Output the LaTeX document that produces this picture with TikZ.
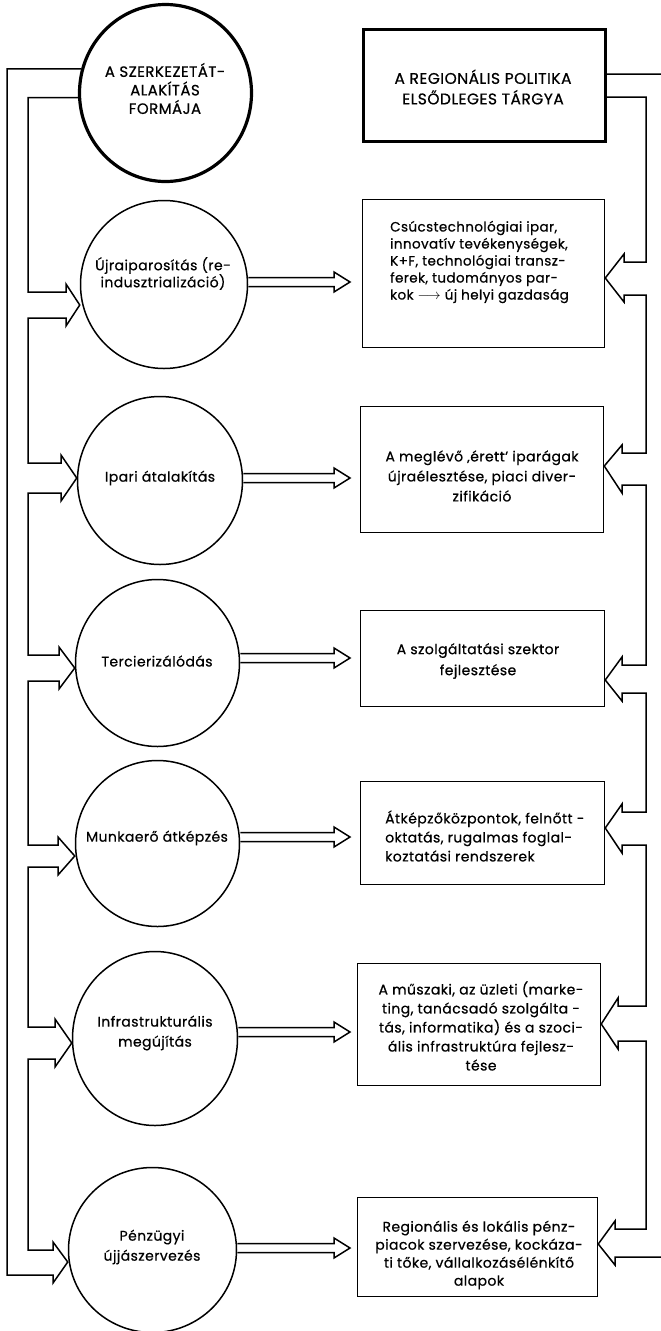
\documentclass[tikz,border=0pt]{standalone}
\usepackage{fontspec}
\setmainfont{Poppins}[LetterSpace=3, RawFeature={embolden=0.6}]
\usetikzlibrary{shapes.geometric,calc}
\begin{document}
\begin{tikzpicture}[x=1pt,y=-1pt,
  ln/.style={line width=1.5pt, line join=miter, miter limit=20},
  ell/.style={draw, ellipse, line width=1.5pt, inner sep=0pt},
  thickell/.style={ell, line width=3.2pt},
  boxn/.style={draw, rectangle, line width=1.5pt, inner sep=0pt},
  thickbox/.style={boxn, line width=3.2pt},
  txt/.style={inner sep=0pt, align=center, font=\fontsize{14}{19}\selectfont},
  caps/.style={inner sep=0pt, align=center, font=\fontsize{15.5}{19}\selectfont},
  ]
\useasboundingbox (0,0) rectangle (661,1331);
% ellipses
\node[thickell, minimum width=172pt, minimum height=177pt] (e1) at (165.5,93) {};
\node[ell, minimum width=167pt, minimum height=168pt] (e2) at (164,284.5) {};
\node[ell, minimum width=165pt, minimum height=168pt] (e3) at (160,480.5) {};
\node[ell, minimum width=164pt, minimum height=167pt] (e4) at (157.5,663) {};
\node[ell, minimum width=164pt, minimum height=166pt] (e5) at (157.5,843.5) {};
\node[ell, minimum width=165pt, minimum height=174pt] (e6) at (155,1038.5) {};
\node[ell, minimum width=168pt, minimum height=165pt] (e7) at (152.5,1250) {};
% boxes
\node[thickbox, minimum width=242pt, minimum height=112pt] (b1) at (484.5,85.5) {};
\node[boxn, minimum width=242pt, minimum height=148pt] (b2) at (483.5,273.5) {};
\node[boxn, minimum width=243pt, minimum height=126pt] (b3) at (482,469.5) {};
\node[boxn, minimum width=244pt, minimum height=96pt] (b4) at (482.5,658.5) {};
\node[boxn, minimum width=244pt, minimum height=103pt] (b5) at (482.5,833) {};
\node[boxn, minimum width=243pt, minimum height=122pt] (b6) at (479,1024.5) {};
\node[boxn, minimum width=240pt, minimum height=99pt] (b7) at (477.5,1247) {};
% texts
\node[caps, font=\fontsize{15}{18.5}\selectfont] (te1) at (165,88.5) {A SZERKEZETÁT-\\ALAKÍTÁS\\FORMÁJA};
\node[caps, font=\fontsize{15.5}{20.5}\selectfont] (tb1) at (483,87) {A REGIONÁLIS POLITIKA\\ELSŐDLEGES TÁRGYA};
\node[txt, font=\fontsize{14}{17}\selectfont] (te2) at (163,273.5) {Újraiparosítás (re-\\indusztrializáció)};
\node[txt] (te3) at (160,478) {Ipari átalakítás};
\node[txt] (te4) at (157,661) {Tercierizálódás};
\node[txt] (te5) at (157,838) {Munkaerő átképzés};
\node[txt, font=\fontsize{14}{20}\selectfont] (te6) at (155,1033) {Infrastrukturális\\megújítás};
\node[txt, font=\fontsize{14}{20}\selectfont] (te7) at (152,1247) {Pénzügyi\\újjászervezés};
\node[txt, align=left, anchor=west, font=\fontsize{13.5}{17}\selectfont] (tb2) at (390,262) {Csúcstechnológiai ipar,\\innovatív tevékenységek,\\K+F, technológiai transz-\\ferek, tudományos par-\\kok $\longrightarrow$ új helyi gazdaság};
\node[txt, font=\fontsize{14}{20}\selectfont] (tb3) at (482,476) {A meglévő ‚érett’ iparágak\\újraélesztése, piaci diver-\\zifikáció};
\node[txt, font=\fontsize{14}{21}\selectfont] (tb4) at (478,661) {A szolgáltatási szektor\\fejlesztése};
\node[txt, align=left, anchor=west] (tb5) at (385,836) {Átképzőközpontok, felnőtt -\\oktatás, rugalmas foglal-\\koztatási rendszerek};
\node[txt] (tb6) at (481,1026) {A műszaki, az üzleti (marke-\\ting, tanácsadó szolgálta -\\tás, informatika) és a szoci-\\ális infrastruktúra fejlesz-\\tése};
\node[txt, font=\fontsize{14}{18}\selectfont] (tb7) at (479,1255) {Regionális és lokális pénz-\\piacok szervezése, kockáza-\\ti tőke, vállalkozásélénkítő\\alapok};
% left rails with hollow arrow heads into the ellipses
\draw[ln] (e1.183) -| (28,292) -- (66,292) -- (66,284) -- (e2.west |- 0,305) -- (66,326) -- (66,318) -- (28,318)
  -- (28,463) -- (61,463) -- (61,455) -- (e3.west |- 0,478) -- (61,501) -- (61,493) -- (28,493)
  -- (28,655) -- (59,655) -- (59,647) -- (e4.west |- 0,668) -- (59,689) -- (59,681) -- (28,681)
  -- (28,845) -- (58,845) -- (58,837) -- (e5.west |- 0,856) -- (58,875) -- (58,867) -- (28,867)
  -- (28,1027) -- (55,1027) -- (55,1019) -- (e6.west |- 0,1043) -- (55,1067) -- (55,1059) -- (28,1059)
  -- (28,1250) -- (53,1250) -- (53,1242) -- (e7.west |- 0,1262) -- (53,1283) -- (53,1275) -- (7,1275)
  |- (e1.164);
% right rails with hollow arrow heads into the boxes
\draw[ln] ($(b1.east)+(0,11.5)$) -| (646,262) -- (624,262) -- (624,254) -- (b2.east |- 0,278) -- (624,302) -- (624,295) -- (646,295)
  -- (646,453) -- (622,453) -- (622,445) -- (b3.east |- 0,466) -- (622,493) -- (622,485) -- (646,485)
  -- (646,665) -- (622,665) -- (622,657) -- (b4.east |- 0,680) -- (622,701) -- (622,693) -- (646,693)
  -- (646,812) -- (622,812) -- (622,804) -- (b5.east |- 0,828) -- (622,853) -- (622,845) -- (646,845)
  -- (646,1006) -- (618,1006) -- (618,998) -- (b6.east |- 0,1024) -- (618,1049) -- (618,1041) -- (646,1041)
  -- (646,1229) -- (615,1229) -- (615,1221) -- (b7.east |- 0,1244) -- (615,1265) -- (615,1257) -- (668,1257)
  |- ($(b1.east)+(0,-11.5)$);
% double-line arrows from ellipses to boxes
\draw[ln] (e2.east |- 0,277.5) -- (334,277.5) -- (334,272) -- (350,282) -- (334,292) -- (334,286.5) -- (e2.east |- 0,286.5);
\draw[ln] (e3.east |- 0,473.5) -- (334,473.5) -- (334,468) -- (350,478) -- (334,488) -- (334,482.5) -- (e3.east |- 0,482.5);
\draw[ln] (e4.east |- 0,653.5) -- (334,653.5) -- (334,648) -- (350,658) -- (334,668) -- (334,662.5) -- (e4.east |- 0,662.5);
\draw[ln] (e5.east |- 0,832.5) -- (334,832.5) -- (334,827) -- (350,837) -- (334,847) -- (334,841.5) -- (e5.east |- 0,841.5);
\draw[ln] (e6.east |- 0,1027.5) -- (334,1027.5) -- (334,1022) -- (350,1032) -- (334,1042) -- (334,1036.5) -- (e6.east |- 0,1036.5);
\draw[ln] (e7.east |- 0,1243.5) -- (334,1243.5) -- (334,1238) -- (350,1248) -- (334,1258) -- (334,1252.5) -- (e7.east |- 0,1252.5);
\end{tikzpicture}
\end{document}
